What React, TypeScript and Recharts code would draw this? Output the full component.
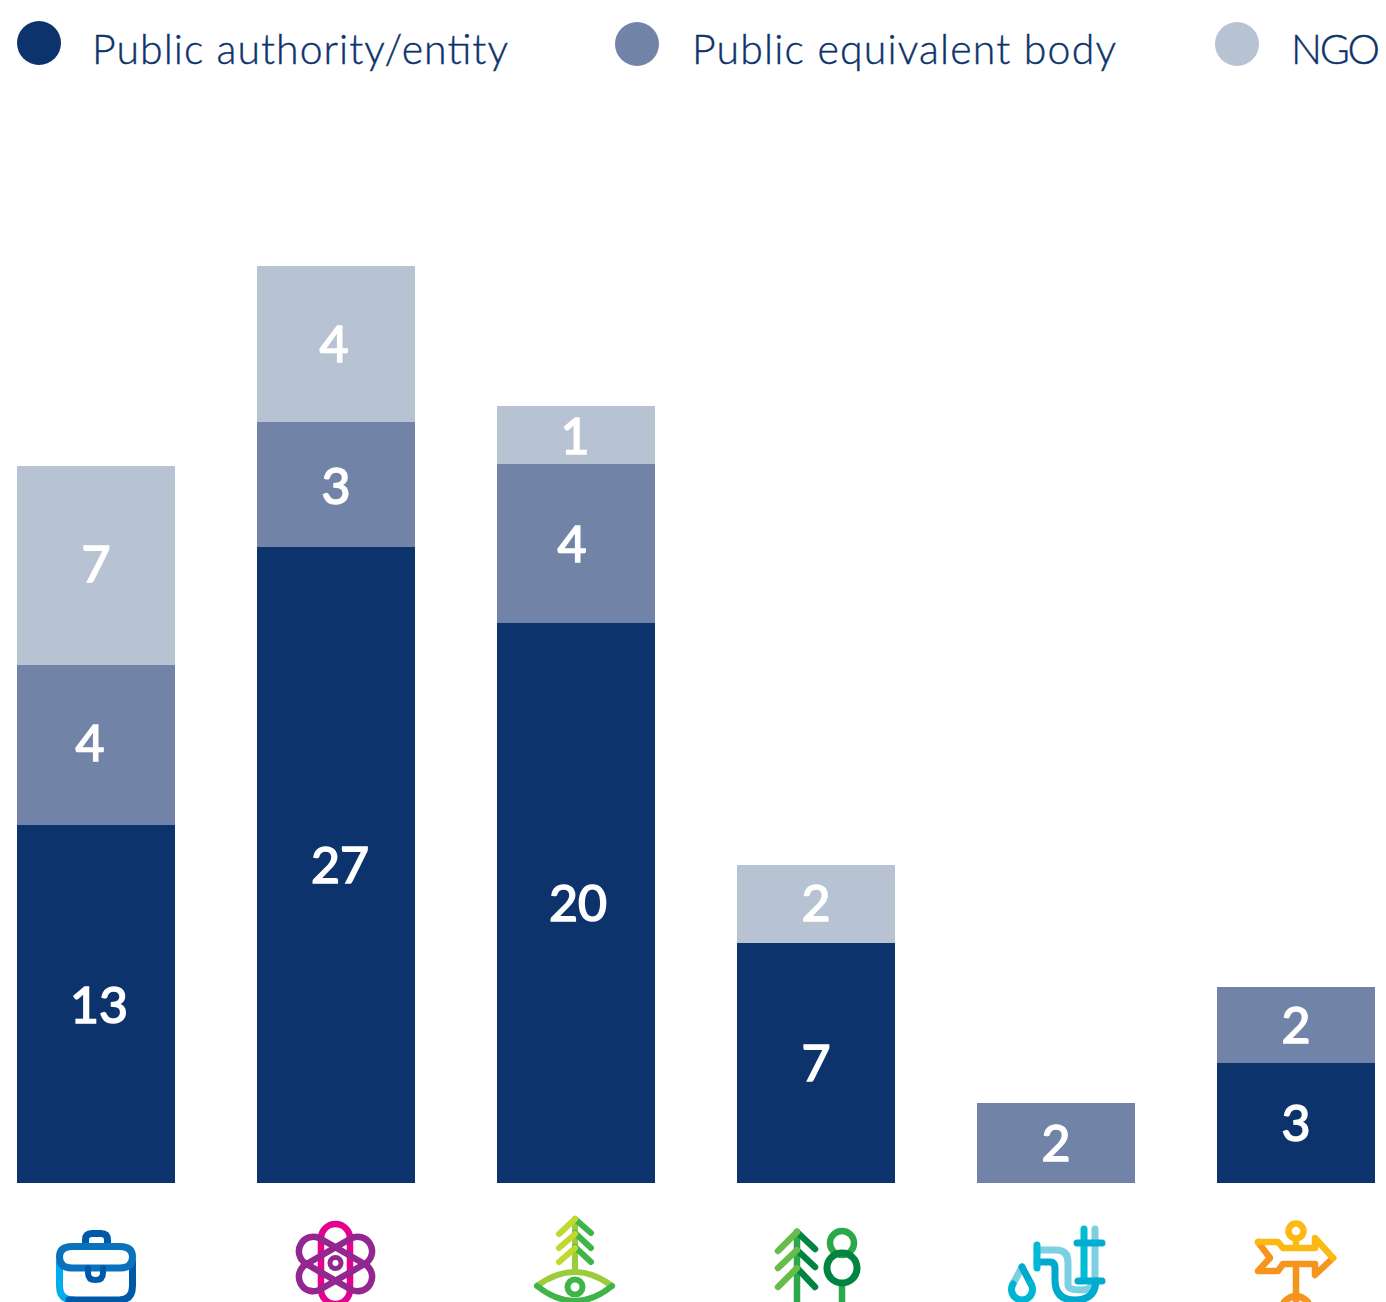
import React from "react";
import { BarChart, Bar, XAxis, YAxis, Legend, LabelList } from "recharts";

const POSITIONS = [0, 1, 2, 3, 4, 5];

// heights as drawn in the picture (the source chart is not to scale with its labels)
const authorityHeights = [8.95, 15.9, 14, 6, 0, 3];
const equivalentHeights = [4, 3.125, 3.975, 0, 2, 1.9];
const ngoHeights = [4.975, 3.9, 1.45, 1.95, 0, 0];

// numbers printed on the bars
const authorityLabels = [13, 27, 20, 7, null, 3];
const equivalentLabels = [4, 3, 4, null, 2, 2];
const ngoLabels = [7, 4, 1, 2, null, null];

// the labels sit a little off centre in the source
const authorityNudge = [3, 4, 2, 0, 0, 0];
const equivalentNudge = [-6, 0, -4, 0, 0, 0];
const ngoNudge = [0, -2, -1, 0, 0, 0];
const authorityLift = [1, 0, 0, 0, 0, 0];
const equivalentLift = [-2, 1, 0, 0, 0, -4];
const ngoLift = [-2, 0, 1, -1, 0, 0];

const SERIES_NAMES = ["Public authority/entity", "Public equivalent body", "NGO"];

const DARK = "#0d336c";
const MID = "#7184a7";
const LIGHT = "#b7c2d3";

const data = POSITIONS.map((pos, i) => ({
  pos,
  authority: authorityHeights[i],
  equivalent: equivalentHeights[i],
  ngo: ngoHeights[i],
  authorityLabel: authorityLabels[i],
  equivalentLabel: equivalentLabels[i],
  ngoLabel: ngoLabels[i],
}));

function barLabel(nudge: number[], lift: number[]) {
  return function BarLabel(props: any) {
    const { x, y, width, height, value, index } = props;
    if (value === null || value === undefined) return null;
    return (
      <text
        x={x + width / 2 + nudge[index]}
        y={y + height / 2 + lift[index]}
        dy={18}
        textAnchor="middle"
        fill="#ffffff"
        stroke="#ffffff"
        strokeWidth={1.6}
        fontFamily="Lato"
        fontSize={50}
      >
        {value}
      </text>
    );
  };
}

const LEGEND_ITEMS = [
  { name: SERIES_NAMES[0], color: DARK, cx: 39, cy: 43, tx: 92, len: 416 },
  { name: SERIES_NAMES[1], color: MID, cx: 637, cy: 44, tx: 692, len: 424 },
  { name: SERIES_NAMES[2], color: LIGHT, cx: 1237, cy: 44, tx: 1291, len: 89 },
];

function LegendRow() {
  return (
    <svg width={1386} height={183} style={{ display: "block" }}>
      {LEGEND_ITEMS.map((item) => (
        <g key={item.name}>
          <circle cx={item.cx} cy={item.cy} r={22} fill={item.color} />
          <text
            x={item.tx}
            y={64}
            fill="#0d336c"
            stroke="#0d336c"
            strokeWidth={0.4}
            fontFamily="Lato"
            fontWeight={300}
            fontSize={41}
            textLength={item.len}
            lengthAdjust="spacing"
          >
            {item.name}
          </text>
        </g>
      ))}
    </svg>
  );
}

// icons are drawn in picture coordinates and shifted from their reference centre
function BriefcaseIcon() {
  return (
    <g fill="none" strokeWidth={7} strokeLinecap="round" strokeLinejoin="round">
      <path d="M85.5 1244 V1240 Q85.5 1233.5 92 1233.5 H101 Q107.5 1233.5 107.5 1240 V1244" stroke="#0059a8" />
      <path d="M59.5 1262 V1286 Q59.5 1300 73.5 1300" stroke="#00aeef" />
      <path d="M69 1300 H119 Q132.5 1300 132.5 1286 V1262" stroke="#0059a8" />
      <path d="M72 1246.5 H120 Q132.5 1246.5 132.5 1257 Q132.5 1268 120 1268 H72 Q59.5 1268 59.5 1257 Q59.5 1246.5 72 1246.5 Z" stroke="#0a72bd" />
      <path d="M88 1268 V1273 Q88 1280 95.5 1280 Q103 1280 103 1273 V1268" stroke="#0059a8" strokeWidth={6} />
    </g>
  );
}

function AtomIcon() {
  return (
    <g fill="none" strokeWidth={6.5}>
      <rect x={321} y={1224} width={29} height={80} rx={14.5} stroke="#e6008f" />
      <rect x={321} y={1224} width={29} height={80} rx={14.5} stroke="#92278f" transform="rotate(60 335.5 1264)" />
      <rect x={321} y={1224} width={29} height={80} rx={14.5} stroke="#92278f" transform="rotate(-60 335.5 1264)" />
      <circle cx={335.5} cy={1263} r={5.5} stroke="#92278f" strokeWidth={5} />
    </g>
  );
}

function TreeEyeIcon() {
  return (
    <g fill="none" strokeWidth={6} strokeLinecap="round" strokeLinejoin="round">
      <path d="M575 1219 V1272" stroke="#9ccb3b" />
      <path d="M575 1219 L591 1233 M575 1233 L591 1248 M575 1247 L591 1262" stroke="#3fb549" />
      <path d="M575 1219 L559 1234 M575 1234 L559 1248 M575 1248 L559 1262" stroke="#c1d82f" />
      <path d="M537 1286 Q575 1258 612 1286" stroke="#9ccb3b" />
      <path d="M537 1286 Q575 1316 612 1286" stroke="#3fb549" />
      <circle cx={575} cy={1287} r={7.5} stroke="#3fb549" />
    </g>
  );
}

function TreesIcon() {
  return (
    <g fill="none" strokeWidth={6.5} strokeLinecap="round" strokeLinejoin="round">
      <path d="M797 1232 V1304" stroke="#2ba84a" />
      <path d="M797 1232 L815 1249 M797 1250 L815 1267 M797 1268 L815 1287" stroke="#00843f" />
      <path d="M797 1232 L778 1251 M797 1250 L778 1268 M797 1268 L778 1287" stroke="#66bd4a" />
      <path d="M842 1284 V1304" stroke="#2ba84a" />
      <circle cx={842} cy={1243} r={12} stroke="#2aa84a" />
      <circle cx={842} cy={1268} r={15} stroke="#00843f" strokeWidth={7} />
    </g>
  );
}

function PipesIcon() {
  return (
    <g fill="none" strokeWidth={7} strokeLinecap="round" strokeLinejoin="round">
      <path d="M1022 1267 L1013 1284" stroke="#7dd0e2" />
      <path d="M1022 1267 L1031 1284" stroke="#00a9ce" />
      <path d="M1013 1284 A10.5 10.5 0 1 0 1031 1284" stroke="#00b5d1" />
      <path d="M1037 1250 H1056 Q1068 1250 1068 1262 V1285 Q1068 1290 1081 1290 Q1095 1290 1095 1278 V1229" stroke="#7dd0e2" />
      <path d="M1084 1229 V1280" stroke="#00bcd4" />
      <path d="M1037 1262 H1050 Q1055 1262 1055 1268 V1280 Q1055 1300 1075 1300 Q1095 1300 1096 1281" stroke="#00a9ce" />
      <path d="M1037 1245 V1268" stroke="#00b9d6" />
      <path d="M1077 1243 H1102 M1078 1281 H1102" stroke="#00acd0" />
    </g>
  );
}

function SignpostIcon() {
  return (
    <g fill="none" strokeWidth={6.5} strokeLinecap="round" strokeLinejoin="round">
      <circle cx={1296} cy={1231} r={7.5} stroke="#fdb913" />
      <path d="M1296 1238 V1248" stroke="#fdb913" />
      <path d="M1296 1264 V1304" stroke="#f7941d" />
      <path d="M1284 1302 Q1296 1290 1308 1302" stroke="#f7941d" />
      <path d="M1333 1258 L1315 1275 V1264 H1283 L1278 1271 H1258 L1270 1258 L1258 1242" stroke="#f7941d" />
      <path d="M1258 1242 H1278 L1283 1248 H1315 V1238 L1333 1258" stroke="#fdb913" />
    </g>
  );
}

const ICONS = [BriefcaseIcon, AtomIcon, TreeEyeIcon, TreesIcon, PipesIcon, SignpostIcon];
const ICON_CENTRES = [96, 336, 576, 816, 1056, 1296];

function IconTick(props: any) {
  const { x, y, payload } = props;
  const i = payload.value;
  const Icon = ICONS[i];
  if (!Icon) return null;
  return (
    <g transform={`translate(${x - ICON_CENTRES[i]} ${y - 1200})`}>
      <Icon />
    </g>
  );
}

export default function App() {
  return (
    <div style={{ position: "absolute", left: 0, top: 0, width: 1386, height: 1302, background: "#ffffff" }}>
      <BarChart
        width={1386}
        height={1302}
        data={data}
        margin={{ top: 0, right: 0, bottom: 0, left: 0 }}
      >
        <Legend verticalAlign="top" align="left" height={183} wrapperStyle={{ left: 0, top: 0 }} content={() => <LegendRow />} />
        <XAxis
          dataKey="pos"
          type="number"
          domain={[-0.4, 5.375]}
          ticks={POSITIONS}
          height={119}
          axisLine={false}
          tickLine={false}
          tickSize={0}
          tickMargin={17}
          allowDataOverflow
          tick={<IconTick />}
        />
        <YAxis hide domain={[0, 25]} />
        <Bar dataKey="authority" stackId="a" fill={DARK} barSize={158} isAnimationActive={false}>
          <LabelList dataKey="authorityLabel" content={barLabel(authorityNudge, authorityLift)} />
        </Bar>
        <Bar dataKey="equivalent" stackId="a" fill={MID} barSize={158} isAnimationActive={false}>
          <LabelList dataKey="equivalentLabel" content={barLabel(equivalentNudge, equivalentLift)} />
        </Bar>
        <Bar dataKey="ngo" stackId="a" fill={LIGHT} barSize={158} isAnimationActive={false}>
          <LabelList dataKey="ngoLabel" content={barLabel(ngoNudge, ngoLift)} />
        </Bar>
      </BarChart>
    </div>
  );
}
